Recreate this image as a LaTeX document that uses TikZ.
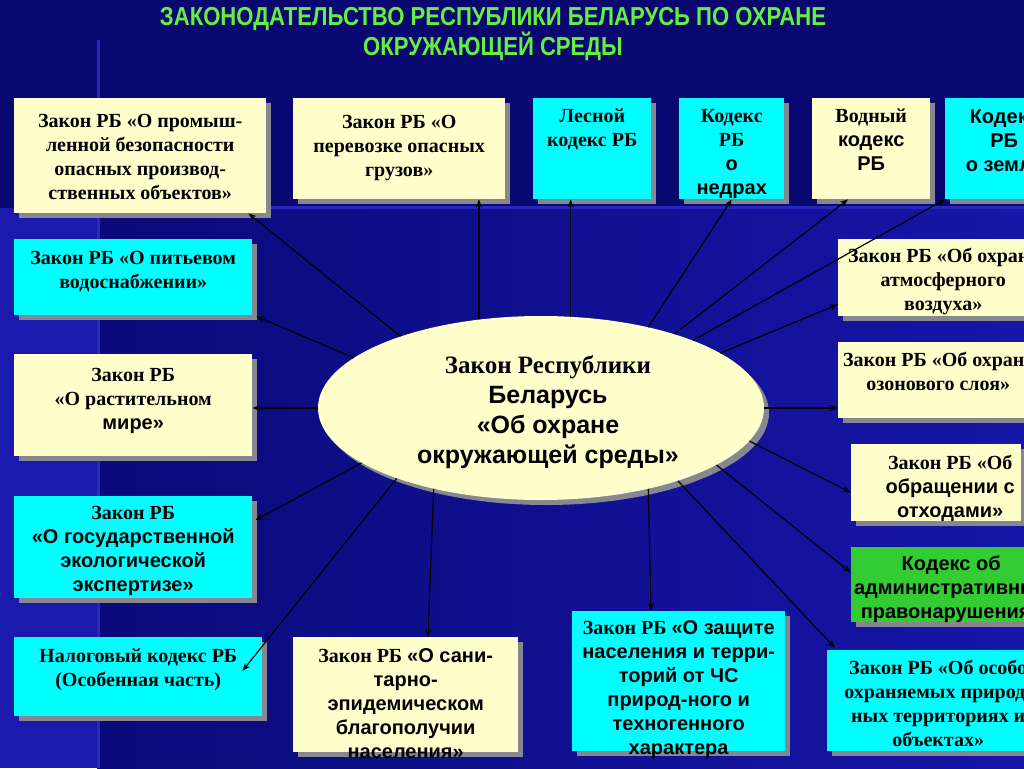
\documentclass[tikz,border=0pt]{standalone}
\usepackage{fontspec}
\usepackage{graphicx}
\setmainfont{Liberation Serif}
\setsansfont{Liberation Sans}
\usetikzlibrary{shapes.geometric,shadows,calc,arrows.meta}
\definecolor{bgtop}{RGB}{8,8,112}
\definecolor{bgmid}{RGB}{10,10,122}
\definecolor{bgright}{RGB}{22,22,168}
\definecolor{bgleft}{RGB}{26,26,172}
\definecolor{bgline}{RGB}{40,40,190}
\definecolor{boxyellow}{RGB}{255,255,204}
\definecolor{boxcyan}{RGB}{0,255,255}
\definecolor{boxgreen}{RGB}{51,204,51}
\definecolor{shadowgray}{RGB}{135,135,145}
\definecolor{titlegreen}{RGB}{100,240,60}
\tikzset{
  box/.style={rectangle, inner sep=0pt, anchor=north west, draw=none,
    drop shadow={shadow xshift=5pt, shadow yshift=-5pt, fill=shadowgray, opacity=1}},
  ybox/.style={box, fill=boxyellow},
  cbox/.style={box, fill=boxcyan},
  gbox/.style={box, fill=boxgreen},
  txt/.style={anchor=north, align=center, inner sep=0pt, text=black,
    font=\bfseries\fontsize{20}{24}\selectfont},
  etxt/.style={align=center, inner sep=0pt, text=black,
    font=\bfseries\fontsize{25}{30}\selectfont},
  ttl/.style={align=center, inner sep=0pt, text=titlegreen,
    font=\sffamily\bfseries\fontsize{26}{27}\selectfont},
  arr/.style={-{Stealth[length=8pt,width=6pt]}, line width=1.2pt, black}
}
\begin{document}
\begin{tikzpicture}[x=1pt,y=-1pt]
\useasboundingbox (0,0) rectangle (1024,768);
\clip (0,0) rectangle (1024,768);
% background
\fill[bgtop] (0,0) rectangle (1024,768);
\shade[left color=bgmid, right color=bgright] (97,208) rectangle (1024,768);
\fill[bgleft] (0,208) rectangle (97,768);
\fill[bgline] (97,206) rectangle (1024,209);
\fill[bgline] (97,40) rectangle (100,768);

% title
\node[ttl] (title) at (493,34) {\scalebox{0.85}[1]{ЗАКОНОДАТЕЛЬСТВО РЕСПУБЛИКИ БЕЛАРУСЬ ПО ОХРАНЕ}\\\scalebox{0.85}[1]{ОКРУЖАЮЩЕЙ СРЕДЫ}};

% boxes
\node[ybox, minimum width=252pt, minimum height=115pt] (b1) at (14,98) {};
\node[ybox, minimum width=212pt, minimum height=101pt] (b2) at (293,98) {};
\node[cbox, minimum width=118pt, minimum height=101pt] (b3) at (533,98) {};
\node[cbox, minimum width=105pt, minimum height=101pt] (b4) at (679,98) {};
\node[ybox, minimum width=118pt, minimum height=101pt] (b5) at (812,98) {};
\node[cbox, minimum width=118pt, minimum height=101pt] (b6) at (945,98) {};
\node[cbox, minimum width=238pt, minimum height=76pt] (b7) at (14,239) {};
\node[ybox, minimum width=238pt, minimum height=102pt] (b8) at (14,354) {};
\node[cbox, minimum width=238pt, minimum height=102pt] (b9) at (14,496) {};
\node[cbox, minimum width=248pt, minimum height=79pt] (b10) at (14,637) {};
\node[ybox, minimum width=225pt, minimum height=115pt] (b11) at (293,637) {};
\node[cbox, minimum width=213pt, minimum height=140pt] (b12) at (572,611) {};
\node[ybox, minimum width=210pt, minimum height=77pt] (b13) at (838,239) {};
\node[ybox, minimum width=200pt, minimum height=76pt] (b14) at (838,342) {};
\node[ybox, minimum width=170pt, minimum height=77pt] (b15) at (851,444) {};
\node[gbox, minimum width=200pt, minimum height=75pt] (b16) at (851,547) {};
\node[cbox, minimum width=222pt, minimum height=101pt] (b17) at (827,650) {};

% box texts
\node[txt] (t1) at ([yshift=-16pt]b1.north) {Закон РБ «О промыш-\\ленной безопасности\\опасных производ-\\ственных объектов»};
\node[txt] (t2) at ([yshift=-17pt]b2.north) {Закон РБ «О\\перевозке опасных\\грузов»};
\node[txt] (t3) at ([yshift=-11pt]b3.north) {Лесной\\кодекс РБ};
\node[txt] (t4) at ([yshift=-11pt]b4.north) {Кодекс\\РБ\\\textsf{о}\\\textsf{недрах}};
\node[txt] (t5) at ([yshift=-11pt]b5.north) {Водный\\\textsf{кодекс}\\\textsf{РБ}};
\node[txt] (t6) at ([yshift=-12pt]b6.north) {\textsf{Кодекс}\\\textsf{РБ}\\\textsf{о земле}};
\node[txt] (t7) at ([yshift=-12pt]b7.north) {Закон РБ «О питьевом\\водоснабжении»};
\node[txt] (t8) at ([yshift=-14pt]b8.north) {Закон РБ\\«О растительном\\\textsf{мире»}};
\node[txt] (t9) at ([yshift=-10pt]b9.north) {Закон РБ\\\textsf{«О государственной}\\\textsf{экологической}\\\textsf{экспертизе»}};
\node[txt] (t10) at ([yshift=-12pt]b10.north) {Налоговый кодекс РБ\\(Особенная часть)};
\node[txt] (t11) at ([yshift=-11pt]b11.north) {Закон РБ \textsf{«О сани-}\\\textsf{тарно-}\\\textsf{эпидемическом}\\\textsf{благополучии}\\\textsf{населения»}};
\node[txt] (t12) at ([yshift=-9pt]b12.north) {Закон РБ \textsf{«О защите}\\\textsf{населения и терри-}\\\textsf{торий от ЧС}\\\textsf{природ-ного и}\\\textsf{техногенного}\\\textsf{характера}};
\node[txt] (t13) at ([yshift=-9pt]b13.north) {Закон РБ «Об охране\\атмосферного\\воздуха»};
\node[txt] (t14) at ([yshift=-10pt]b14.north) {Закон РБ «Об охране\\озонового слоя»};
\node[txt] (t15) at ([xshift=14pt,yshift=-11pt]b15.north) {Закон РБ «Об\\\textsf{обращении с}\\\textsf{отходами»}};
\node[txt] (t16) at ([yshift=-9pt]b16.north) {\textsf{Кодекс об}\\\textsf{административных}\\\textsf{правонарушениях}};
\node[txt] (t17) at ([yshift=-10pt]b17.north) {Закон РБ «Об особо\\охраняемых природ-\\ных территориях и\\объектах»};

% central ellipse
\node[ellipse, fill=boxyellow, minimum width=446pt, minimum height=184pt, inner sep=0pt,
  drop shadow={shadow xshift=5pt, shadow yshift=-5pt, fill=shadowgray, opacity=1}] (ell) at (541,408) {};
\node[etxt] (et) at (548,412) {Закон Республики\\\textsf{Беларусь}\\\textsf{«Об охране}\\\textsf{окружающей среды»}};

% connectors
\draw[arr] (ell.153) -- ($(b1.south east)+(-18,0)$);
\draw[arr] (ell.125) -- (ell.125 |- b2.south);
\draw[arr] (ell.72) -- (ell.72 |- b3.south);
\draw[arr] (ell.37) -- (b4.south);
\draw[arr] (ell.29) -- ($(b5.south west)+(36,0)$);
\draw[arr] (ell.24) -- (b6.south west);
\draw[arr] (ell.17) -- ($(b13.south west)+(0,-12)$);
\draw[arr] (ell.east) -- (ell.east -| b14.west);
\draw[arr] (ell.-9) -- ($(b15.west)+(0,10)$);
\draw[arr] (ell.-18) -- ($(b16.west)+(0,-12)$);
\draw[arr] (ell.-28) -- ($(b17.north west)+(8,-2)$);
\draw[arr] (ell.-37) -- ($(b12.north west)+(79,0)$);
\draw[arr] (ell.-143) -- ($(b11.north west)+(135,0)$);
\draw[arr] (ell.-154) -- ($(b10.north east)+(-20,34)$);
\draw[arr] (ell.-163) -- ($(b9.east)+(3,-27)$);
\draw[arr] (ell.west) -- (ell.west -| b8.east);
\draw[arr] (ell.165) -- ($(b7.south east)+(4,1)$);
\end{tikzpicture}
\end{document}
